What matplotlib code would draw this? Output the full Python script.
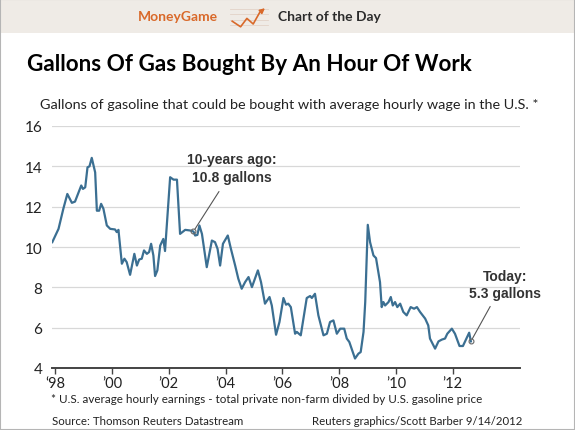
import matplotlib.pyplot as plt
from matplotlib.patches import Rectangle

# fractional year / gallons
years = [
    1997.90, 1998.12, 1998.29, 1998.43, 1998.59, 1998.70, 1998.92, 1998.98,
    1999.06, 1999.14, 1999.21, 1999.29, 1999.41, 1999.47, 1999.55, 1999.62,
    1999.70, 1999.82, 1999.94, 2000.11, 2000.17, 2000.23, 2000.35, 2000.44,
    2000.52, 2000.64, 2000.79, 2000.88, 2000.96, 2001.05, 2001.13, 2001.23,
    2001.31, 2001.38, 2001.46, 2001.52, 2001.60, 2001.70, 2001.81, 2001.87,
    2002.05, 2002.17, 2002.29, 2002.40, 2002.58, 2002.75, 2002.87, 2002.93,
    2003.01, 2003.08, 2003.17, 2003.34, 2003.52, 2003.63, 2003.72, 2003.81,
    2003.91, 2004.08, 2004.19, 2004.34, 2004.45, 2004.57, 2004.69, 2004.81,
    2004.93, 2005.14, 2005.25, 2005.39, 2005.55, 2005.63, 2005.78, 2005.90,
    2006.04, 2006.13, 2006.21, 2006.30, 2006.45, 2006.51, 2006.65, 2006.86,
    2006.98, 2007.04, 2007.15, 2007.27, 2007.45, 2007.57, 2007.68, 2007.80,
    2007.92, 2008.04, 2008.18, 2008.27, 2008.36, 2008.56, 2008.68, 2008.76,
    2008.86, 2008.92, 2009.01, 2009.09, 2009.21, 2009.30, 2009.44, 2009.50,
    2009.56, 2009.62, 2009.74, 2009.82, 2009.89, 2009.97, 2010.05, 2010.15,
    2010.26, 2010.38, 2010.52, 2010.64, 2010.74, 2010.85, 2011.03, 2011.14,
    2011.20, 2011.38, 2011.50, 2011.62, 2011.73, 2011.81, 2011.97, 2012.08,
    2012.24, 2012.36, 2012.58, 2012.64,
]
gallons = [
    10.24, 10.90, 11.90, 12.63, 12.19, 12.25, 13.05, 12.88,
    12.96, 13.95, 14.00, 14.42, 13.70, 11.80, 11.80, 12.14,
    11.90, 11.07, 10.90, 10.87, 10.74, 10.85, 9.17, 9.42,
    9.25, 8.62, 9.66, 9.08, 9.38, 9.42, 9.83, 9.66,
    9.75, 10.16, 9.58, 8.56, 8.84, 10.07, 10.40, 9.80,
    13.46, 13.34, 13.34, 10.65, 10.85, 10.82, 10.77, 10.57,
    10.60, 11.07, 10.65, 9.00, 10.32, 10.24, 9.91, 9.08,
    10.16, 10.57, 9.91, 9.08, 8.43, 7.93, 8.26, 8.51,
    8.01, 8.84, 8.26, 7.19, 7.52, 7.10, 5.65, 6.28,
    7.47, 7.14, 7.19, 7.02, 5.70, 5.79, 5.62, 7.47,
    7.57, 7.47, 7.68, 6.61, 5.62, 5.70, 6.28, 6.36,
    5.70, 5.95, 5.95, 5.46, 5.29, 4.47, 4.71, 4.79,
    5.79, 7.27, 11.10, 10.24, 9.58, 9.45, 8.26, 7.02,
    7.27, 7.10, 7.27, 7.52, 7.10, 7.27, 7.02, 7.19,
    6.78, 6.61, 7.02, 6.94, 7.02, 6.78, 6.45, 6.11,
    5.46, 4.96, 5.32, 5.41, 5.46, 5.70, 5.95, 5.70,
    5.09, 5.09, 5.75, 5.32,
]
tick_years = [1998, 2000, 2002, 2004, 2006, 2008, 2010, 2012]
tick_labels = ["\u201898", "\u201900", "\u201902", "\u201904", "\u201906", "\u201908", "\u201910", "\u201912"]
y_ticks = [4, 6, 8, 10, 12, 14, 16]

TEN_YEARS_AGO = 46  # index of the point labelled 10.8 gallons
TODAY = len(years) - 1

W, H = 575, 431
fig = plt.figure(figsize=(W / 100, H / 100), dpi=100)
fig.patch.set_facecolor("white")


def fx(px):
    return px / W


def fy(py):
    return 1 - py / H


# header band
fig.add_artist(Rectangle((0, fy(34)), 1, 34 / H, transform=fig.transFigure,
                         facecolor="#efebe6", edgecolor="none", zorder=0))
fig.text(fx(218), fy(17), "MoneyGame", ha="right", va="center",
         fontsize=10, fontweight="bold", color="#d9692a", family="Lato")
fig.text(fx(278), fy(17), "Chart of the Day", ha="left", va="center",
         fontsize=10, fontweight="bold", color="#2b2b2b", family="Lato")
icon = fig.add_axes([fx(228), fy(32), 42 / W, 28 / H])
icon.set_xlim(0, 10)
icon.set_ylim(0, 10)
icon.axis("off")
for yy in [2, 4, 6, 8]:
    icon.plot([0.5, 9.5], [yy, yy], color="#e3d3c8", lw=0.6)
icon.plot([1, 3, 4.5, 6, 7.5], [3.5, 1.5, 4.5, 2.5, 6.5], color="#d9692a", lw=1.2)
icon.annotate("", xy=(9.3, 8.8), xytext=(7.5, 6.5),
              arrowprops=dict(arrowstyle="-|>", color="#d9692a", lw=1.2, mutation_scale=7))

fig.text(fx(27), fy(65), "Gallons Of Gas Bought By An Hour Of Work", ha="left", va="center",
         fontsize=16.2, fontweight="bold", color="black", family="Lato")
fig.text(fx(40), fy(105), "Gallons of gasoline that could be bought with average hourly wage in the U.S. *",
         ha="left", va="center", fontsize=10.4, color="#222222", family="Lato")

ax = fig.add_axes([fx(52), fy(369), (520 - 52) / W, (369 - 127) / H])
ax.plot(years, gallons, color="#3b6f92", lw=1.6, zorder=3, solid_joinstyle="round")
ax.set_xlim(1997.89, 2014.37)
ax.set_ylim(4, 16)
ax.set_yticks(y_ticks)
ax.set_xticks(tick_years)
ax.set_xticklabels(tick_labels)
ax.grid(axis="y", color="#d8d8d8", lw=0.9)
ax.set_axisbelow(True)
for side in ["top", "left", "right"]:
    ax.spines[side].set_visible(False)
ax.spines["bottom"].set_color("#444444")
ax.spines["bottom"].set_linewidth(1.4)
ax.tick_params(axis="y", length=0, pad=7, labelsize=11, labelcolor="#222222")
ax.tick_params(axis="x", length=4, width=1, color="#444444", pad=1.5,
               labelsize=10.5, labelcolor="#222222")
for lab in ax.get_xticklabels() + ax.get_yticklabels():
    lab.set_family("Lato")

# call-outs
ax.plot([years[TEN_YEARS_AGO], years[TODAY]], [gallons[TEN_YEARS_AGO], gallons[TODAY]],
        ls="none", marker="o", ms=3.5, mfc="none", mec="#666666", mew=0.8, zorder=4)
ax.annotate("", xy=(years[TEN_YEARS_AGO], gallons[TEN_YEARS_AGO]), xytext=(2003.77, 12.75),
            arrowprops=dict(arrowstyle="-", color="#555555", lw=0.8, shrinkA=0, shrinkB=2))
ax.text(2004.23, 13.92, "10-years ago:\n10.8 gallons", ha="center", va="center",
        fontsize=10, fontweight="bold", color="#333333", family="Liberation Sans", linespacing=1.3)
ax.annotate("", xy=(years[TODAY], gallons[TODAY]), xytext=(2013.32, 7.05),
            arrowprops=dict(arrowstyle="-", color="#555555", lw=0.8, shrinkA=0, shrinkB=2))
ax.text(2013.85, 8.13, "Today:\n5.3 gallons", ha="center", va="center",
        fontsize=10, fontweight="bold", color="#333333", family="Liberation Sans", linespacing=1.3)

fig.text(fx(51), fy(400), "* U.S. average hourly earnings - total private non-farm divided by U.S. gasoline price",
         ha="left", va="center", fontsize=8.4, color="#222222", family="Lato")
fig.text(fx(52), fy(422), "Source: Thomson Reuters Datastream", ha="left", va="center",
         fontsize=8.3, color="#222222", family="Lato")
fig.text(fx(522), fy(422), "Reuters graphics/Scott Barber 9/14/2012", ha="right", va="center",
         fontsize=8.2, color="#222222", family="Lato")

# thin frame round the whole picture
fig.add_artist(Rectangle((0, 0), 1, 1, transform=fig.transFigure, facecolor="none",
                         edgecolor="#b5b5b5", lw=1.5, zorder=10))

fig.savefig("out.png", dpi=100)
